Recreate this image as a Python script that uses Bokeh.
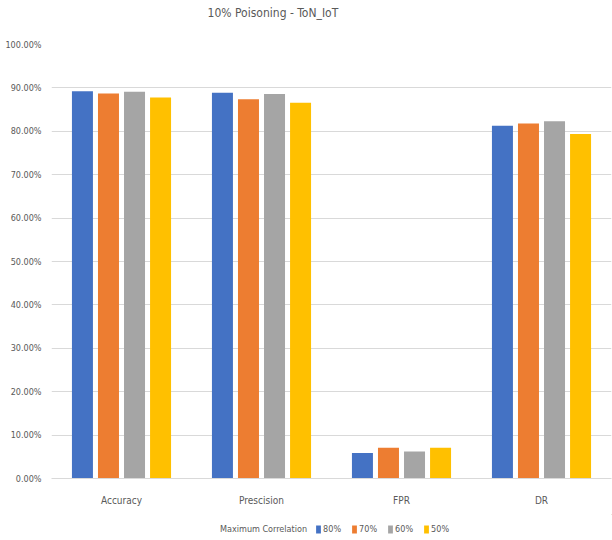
from bokeh.plotting import figure
from bokeh.layouts import column
from bokeh.models import (FactorRange, Range1d, NumeralTickFormatter, FixedTicker,
                          Legend, LegendItem, Label, ColumnDataSource)
from bokeh.transform import dodge
from bokeh.embed import file_html
from bokeh.resources import INLINE

# Metrics and series (fractions)
metrics = ["Accuracy", "Prescision", "FPR", "DR"]
series_names = ["80%", "70%", "60%", "50%"]
corr_80 = [0.892, 0.889, 0.059, 0.813]
corr_70 = [0.887, 0.874, 0.071, 0.818]
corr_60 = [0.891, 0.886, 0.062, 0.823]
corr_50 = [0.878, 0.866, 0.071, 0.794]
y_ticks = [0.0, 0.1, 0.2, 0.3, 0.4, 0.5, 0.6, 0.7, 0.8, 0.9, 1.0]

colors = ["#4472C4", "#ED7D31", "#A5A5A5", "#FFC000"]
offsets = [-0.279, -0.093, 0.093, 0.279]
FONT = "DejaVu Sans Condensed"
TEXT_COLOR = "#595959"


def strip(fig):
    fig.outline_line_color = None
    fig.background_fill_color = "white"
    fig.border_fill_color = "white"
    fig.grid.grid_line_color = None


# --- title strip -----------------------------------------------------------
top = figure(width=612, height=26, x_range=Range1d(0, 612), y_range=Range1d(0, 26),
             x_axis_type=None, y_axis_type=None, min_border=0,
             output_backend="svg", toolbar_location=None)
strip(top)
top.add_layout(Label(x=242, y=14, text="10% Poisoning - ToN_IoT", text_align="center",
                     text_baseline="middle", text_font=FONT, text_font_size="12px",
                     text_color=TEXT_COLOR))

# --- main bar chart --------------------------------------------------------
source = ColumnDataSource(dict(metric=metrics, s80=corr_80, s70=corr_70,
                               s60=corr_60, s50=corr_50))

p = figure(width=612, height=488, x_range=FactorRange(*metrics),
           y_range=Range1d(0, 1), output_backend="svg", toolbar_location=None,
           min_border_left=51, min_border_right=1, min_border_top=18,
           min_border_bottom=36)

for col, off, color in zip(["s80", "s70", "s60", "s50"], offsets, colors):
    p.vbar(x=dodge("metric", off, range=p.x_range), top=col, width=0.15,
           source=source, fill_color=color, line_color=None)

p.outline_line_color = None
p.background_fill_color = "white"
p.border_fill_color = "white"

p.xgrid.grid_line_color = None
p.ygrid.grid_line_color = "#D9D9D9"
p.ygrid.grid_line_width = 1

p.yaxis.ticker = FixedTicker(ticks=y_ticks)
p.yaxis.formatter = NumeralTickFormatter(format="0.00%")
p.yaxis.axis_line_color = None
p.yaxis.major_tick_line_color = None
p.yaxis.minor_tick_line_color = None
p.yaxis.major_label_standoff = 4
p.yaxis.major_label_text_font = FONT
p.yaxis.major_label_text_font_size = "9px"
p.yaxis.major_label_text_color = TEXT_COLOR

p.xaxis.axis_line_color = "#D9D9D9"
p.xaxis.major_tick_line_color = None
p.xaxis.minor_tick_line_color = None
p.xaxis.major_label_standoff = 10
p.xaxis.major_label_text_font = FONT
p.xaxis.major_label_text_font_size = "10px"
p.xaxis.major_label_text_color = TEXT_COLOR

# --- legend strip ----------------------------------------------------------
bottom = figure(width=612, height=26, x_range=Range1d(0, 1), y_range=Range1d(0, 1),
                x_axis_type=None, y_axis_type=None, min_border=0,
                output_backend="svg", toolbar_location=None)
strip(bottom)

# swatch sources sit outside the visible range so only the legend shows them
caption_r = bottom.vbar(x=[9], top=[9], bottom=[8], width=0.1, fill_alpha=0, line_alpha=0)
items = [LegendItem(label="Maximum Correlation", renderers=[caption_r])]
for name, color in zip(series_names, colors):
    r = bottom.vbar(x=[9], top=[9], bottom=[8], width=0.1, fill_color=color, line_color=None)
    items.append(LegendItem(label=name, renderers=[r]))

legend = Legend(items=items, orientation="horizontal", location=(161, 6),
                glyph_width=6, glyph_height=10, label_standoff=2, spacing=8,
                padding=0, margin=0, border_line_color=None,
                background_fill_alpha=0, label_text_font=FONT,
                label_text_font_size="9px", label_text_color=TEXT_COLOR,
                label_height=10)
bottom.add_layout(legend, "center")

layout = column(top, p, bottom, spacing=0)
open("out.html", "w").write(file_html(layout, INLINE))
